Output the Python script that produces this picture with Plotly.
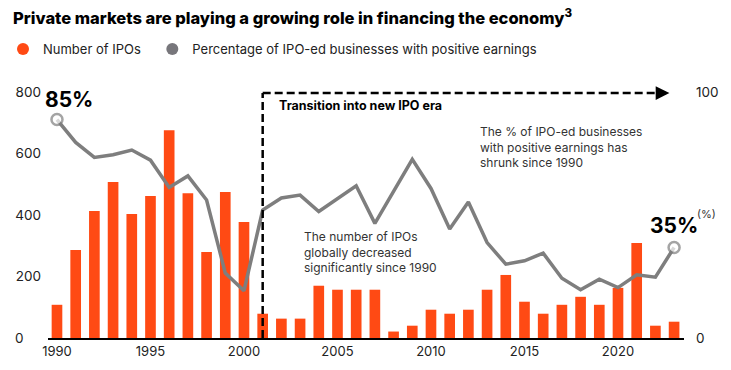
import plotly.graph_objects as go

# ---- data ----
years = list(range(1990, 2024))
ipo_counts = [108, 286, 413, 507, 403, 462, 676, 471, 280, 475, 377,
              79, 63, 63, 170, 157, 157, 157, 21, 40, 92, 79, 92, 157,
              205, 118, 79, 108, 134, 108, 163, 309, 40, 53]
pct_positive = [88.8, 79.5, 73.4, 74.5, 76.4, 72.3, 61.2, 65.9, 56.1, 26.4,
                19.2, 52.0, 56.9, 58.1, 51.4, 56.8, 61.9, 46.6, 59.5, 72.6,
                60.8, 44.3, 55.3, 38.8, 30.0, 31.4, 34.5, 24.3, 19.6, 23.9,
                20.5, 25.7, 24.7, 36.8]
x_ticks = [1990, 1995, 2000, 2005, 2010, 2015, 2020]
left_ticks = [0, 200, 400, 600, 800]
right_ticks = [0, 100]
era_start = 2001
era_end = 2022.75

ORANGE = "#FF4A14"
GRAY = "#7E7E7E"
TXT = "#222222"
FONT = "Inter"

W, H = 731, 370
ML, MR, MT, MB = 48, 47, 92, 32
PW, PH = W - ML - MR, H - MT - MB


def px(x):
    return (x - ML) / PW


def py(y):
    return (H - MB - y) / PH


fig = go.Figure()
fig.add_trace(go.Bar(x=years, y=ipo_counts, marker=dict(color=ORANGE, line=dict(width=0)),
                     width=0.57, showlegend=False, name="Number of IPOs"))
n = len(pct_positive)
fig.add_trace(go.Scatter(
    x=years, y=pct_positive, yaxis="y2", mode="lines+markers",
    line=dict(color=GRAY, width=3.5),
    marker=dict(size=[11 if i in (0, n - 1) else 0 for i in range(n)],
                color="white", line=dict(color=GRAY, width=2.5)),
    showlegend=False, cliponaxis=False,
    name="Percentage of IPO-ed businesses with positive earnings"))
# legend entries
fig.add_trace(go.Scatter(x=[None], y=[None], mode="markers", name="Number of IPOs\u2002",
                         marker=dict(color=ORANGE, size=12)))
fig.add_trace(go.Scatter(x=[None], y=[None], mode="markers",
                         name="Percentage of IPO-ed businesses with positive earnings",
                         marker=dict(color="#77767B", size=12)))

pad = "\u2007"
fig.update_layout(
    width=W, height=H,
    margin=dict(l=ML, r=MR, t=MT, b=MB, autoexpand=False),
    paper_bgcolor="white", plot_bgcolor="white",
    font=dict(family=FONT, size=13, color=TXT),
    title=dict(text="Private markets are playing a growing role in financing the economy<sup>3</sup>",
               x=13 / W, xanchor="left", xref="container",
               y=1 - 18 / H, yanchor="middle", yref="container",
               font=dict(family=FONT, size=16.5, color="#000000", weight=800)),
    legend=dict(orientation="h", x=3 / W, xanchor="left", xref="container",
                y=1 - 49 / H, yanchor="middle", yref="container",
                itemwidth=30,
                font=dict(family=FONT, size=13, color=TXT),
                bgcolor="rgba(0,0,0,0)", traceorder="normal"),
    xaxis=dict(range=[1989.52, 2023.53], tickvals=x_ticks, showgrid=False, zeroline=False,
               showline=True, linecolor="#000000", linewidth=2, ticks="",
               tickfont=dict(size=13, color=TXT)),
    yaxis=dict(range=[0, 800], tickvals=left_ticks,
               ticktext=[str(v) + pad * (3 - len(str(v))) for v in left_ticks],
               showgrid=False, zeroline=False, showline=False, ticks="",
               ticklabelstandoff=6, tickfont=dict(size=13.5, color=TXT)),
    yaxis2=dict(range=[0, 100], tickvals=right_ticks, overlaying="y", side="right",
                showgrid=False, zeroline=False, showline=False, ticks="",
                ticklabelstandoff=11, tickfont=dict(size=13.5, color=TXT)),
    bargap=0.4,
)

# dashed era box
fig.add_shape(type="line", xref="x", yref="paper", x0=era_start, x1=era_start,
              y0=0, y1=py(93), line=dict(color="black", width=2.5, dash="8px,4px"))
fig.add_shape(type="line", xref="x", yref="paper", x0=era_start, x1=era_end - 0.4,
              y0=py(93), y1=py(93), line=dict(color="black", width=2.5, dash="8px,4px"))
fig.add_annotation(x=era_end, y=py(93), xref="x", yref="paper", ax=-12, ay=0,
                   text="", showarrow=True, arrowhead=2, arrowsize=1.1, arrowwidth=2.5,
                   arrowcolor="black")

ann = [
    dict(text="<b>Transition into new IPO era</b>", x=px(278), y=py(105), size=12.5, color="#000"),
    dict(text="The % of IPO-ed businesses<br>with positive earnings has<br>shrunk since 1990",
         x=px(479), y=py(147), size=12, color="#333"),
    dict(text="The number of IPOs<br>globally decreased<br>significantly since 1990",
         x=px(303), y=py(252), size=12, color="#333"),
    dict(text="<b>85%</b>", x=px(44), y=py(99), size=21, color="#000"),
    dict(text="<b>35%</b>", x=px(649), y=py(225), size=21, color="#000"),
    dict(text="(%)", x=px(696), y=py(214), size=11, color="#333"),
]
for a in ann:
    fig.add_annotation(text=a["text"], x=a["x"], y=a["y"], xref="paper", yref="paper",
                       xanchor="left", yanchor="middle", align="left", showarrow=False,
                       font=dict(family=FONT, size=a["size"], color=a["color"]),
                       borderpad=0)

fig.write_html("out.html", post_script="document.body.style.margin='0';",
               config={"displayModeBar": False})
